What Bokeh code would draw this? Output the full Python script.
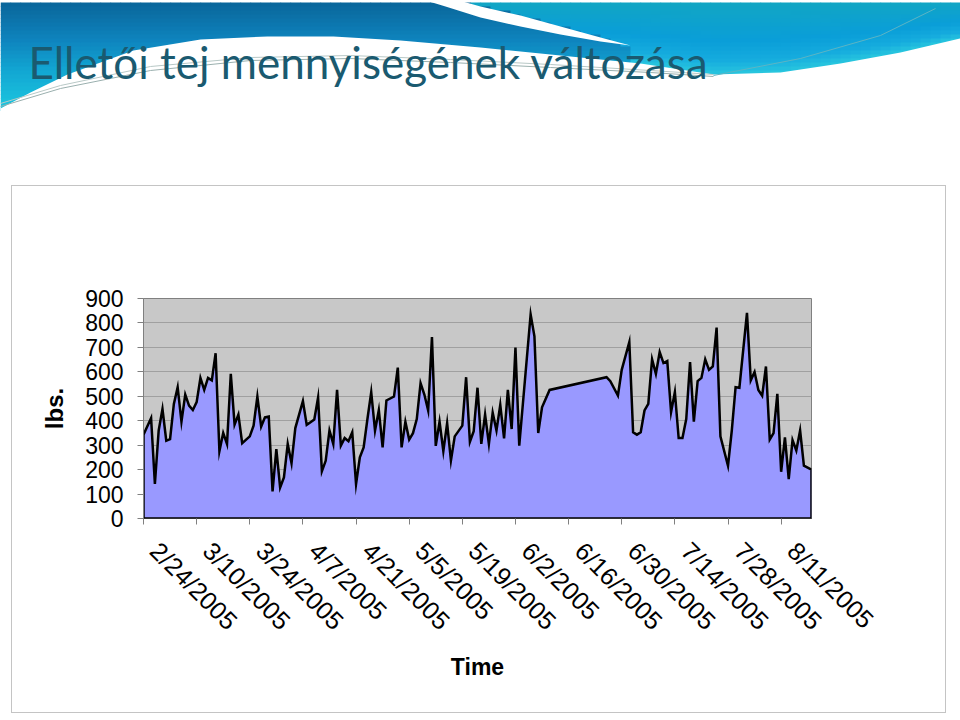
import numpy as np
import pandas as pd
from bokeh.plotting import figure
from bokeh.models import Range1d, FixedTicker, Label, DatetimeAxis
from bokeh.layouts import column, row
from bokeh.embed import file_html
from bokeh.resources import INLINE

# ---------------- data ----------------
dates = [
    "2005-02-24", "2005-02-26", "2005-02-27", "2005-02-28", "2005-03-01", "2005-03-02",
    "2005-03-03", "2005-03-04", "2005-03-05", "2005-03-06", "2005-03-07", "2005-03-08",
    "2005-03-09", "2005-03-10", "2005-03-11", "2005-03-12", "2005-03-13", "2005-03-14",
    "2005-03-15", "2005-03-16", "2005-03-17", "2005-03-18", "2005-03-19", "2005-03-20",
    "2005-03-21", "2005-03-22", "2005-03-24", "2005-03-25", "2005-03-26", "2005-03-27",
    "2005-03-28", "2005-03-29", "2005-03-30", "2005-03-31", "2005-04-01", "2005-04-02",
    "2005-04-03", "2005-04-04", "2005-04-05", "2005-04-07", "2005-04-08", "2005-04-09",
    "2005-04-10", "2005-04-11", "2005-04-12", "2005-04-13", "2005-04-14", "2005-04-15",
    "2005-04-16", "2005-04-17", "2005-04-18", "2005-04-19", "2005-04-20", "2005-04-21",
    "2005-04-22", "2005-04-23", "2005-04-24", "2005-04-25", "2005-04-26", "2005-04-27",
    "2005-04-28", "2005-04-29", "2005-05-01", "2005-05-02", "2005-05-03", "2005-05-04",
    "2005-05-05", "2005-05-06", "2005-05-07", "2005-05-08", "2005-05-09", "2005-05-10",
    "2005-05-11", "2005-05-12", "2005-05-13", "2005-05-14", "2005-05-15", "2005-05-16",
    "2005-05-17", "2005-05-19", "2005-05-20", "2005-05-21", "2005-05-22", "2005-05-23",
    "2005-05-24", "2005-05-25", "2005-05-26", "2005-05-27", "2005-05-28", "2005-05-29",
    "2005-05-30", "2005-05-31", "2005-06-01", "2005-06-02", "2005-06-03", "2005-06-06",
    "2005-06-07", "2005-06-08", "2005-06-09", "2005-06-11", "2005-06-26", "2005-06-27",
    "2005-06-29", "2005-06-30", "2005-07-02", "2005-07-03", "2005-07-04", "2005-07-05",
    "2005-07-06", "2005-07-07", "2005-07-08", "2005-07-09", "2005-07-10", "2005-07-11",
    "2005-07-12", "2005-07-13", "2005-07-14", "2005-07-15", "2005-07-16", "2005-07-17",
    "2005-07-18", "2005-07-19", "2005-07-20", "2005-07-21", "2005-07-22", "2005-07-23",
    "2005-07-24", "2005-07-25", "2005-07-26", "2005-07-28", "2005-07-29", "2005-07-30",
    "2005-07-31", "2005-08-02", "2005-08-03", "2005-08-04", "2005-08-05", "2005-08-06",
    "2005-08-07", "2005-08-08", "2005-08-09", "2005-08-10", "2005-08-11", "2005-08-12",
    "2005-08-13", "2005-08-14", "2005-08-15", "2005-08-16", "2005-08-17", "2005-08-19",
]
milk_lbs = [
    343, 411, 141, 360, 448, 318,
    325, 469, 537, 396, 507, 462,
    444, 476, 575, 526, 575, 565,
    676, 275, 350, 305, 592, 384,
    425, 308, 336, 380, 499, 376,
    414, 417, 111, 284, 127, 168,
    305, 226, 370, 480, 383, 394,
    405, 495, 193, 236, 360, 305,
    526, 298, 329, 316, 353, 141,
    250, 291, 407, 517, 360, 444,
    291, 483, 499, 617, 291, 396,
    323, 349, 407, 554, 507, 442,
    742, 297, 396, 275, 390, 237,
    336, 380, 578, 314, 357, 535,
    305, 425, 305, 433, 360, 465,
    328, 526, 366, 699, 298, 835,
    745, 350, 455, 526, 578, 562,
    503, 608, 722, 353, 343, 353,
    442, 469, 651, 592, 681, 636,
    644, 435, 517, 329, 329, 407,
    640, 396, 562, 575, 651, 608,
    622, 781, 336, 216, 360, 537,
    535, 841, 565, 599, 526, 502,
    622, 323, 349, 510, 191, 332,
    161, 321, 278, 360, 216, 200,
]
tick_labels = ["2/24/2005", "3/10/2005", "3/24/2005", "4/7/2005", "4/21/2005",
               "5/5/2005", "5/19/2005", "6/2/2005", "6/16/2005", "6/30/2005",
               "7/14/2005", "7/28/2005", "8/11/2005"]
y_ticks = [0, 100, 200, 300, 400, 500, 600, 700, 800, 900]
x_start = "2005-02-24"
x_end = "2005-08-19"

title_text = "Elletői tej mennyiségének változása"
y_title = "lbs."
x_title = "Time"


def to_ms(values):
    return list(pd.to_datetime(values).asi8 / 1e6)


x_ms = to_ms(dates)
tick_ms = to_ms(pd.to_datetime(tick_labels, format="%m/%d/%Y"))
x0_ms, x1_ms = to_ms([x_start, x_end])

# ---------------- header (slide decoration + title) ----------------
H = 186
header = figure(width=960, height=H, x_range=Range1d(0, 960), y_range=Range1d(H, 0),
                toolbar_location=None, output_backend="svg", min_border=0,
                x_axis_location=None, y_axis_location=None,
                background_fill_color="white", border_fill_color="white",
                outline_line_color=None)
header.grid.visible = False

bx = [0, 30, 67, 133, 200, 267, 333, 400, 480, 560, 640, 713, 780, 840, 900, 960]
by = [108, 92, 74, 50, 39, 36, 36, 40, 47, 55, 63, 74, 72, 63, 52, 38]
up_x = [425, 455, 480, 520, 560, 600, 628]
up_y = [-1, 0, 6, 15, 26, 37, 45]


def hex_of(c):
    return "#%02x%02x%02x" % tuple(int(round(v)) for v in c)


def grad(stops, t):
    ts = [s[0] for s in stops]
    cols = np.array([s[1] for s in stops], dtype=float)
    return [np.interp(t, ts, cols[:, k]) for k in range(3)]


left_stops = [(0, (10, 100, 152)), (40, (14, 132, 190)), (70, (18, 166, 210)), (110, (28, 200, 224))]
right_stops = [(0.0, (18, 166, 194)), (0.55, (10, 158, 216)), (0.82, (22, 172, 222)), (1.0, (40, 198, 222))]

ql, qr, qt, qb, qc = [], [], [], [], []
step_x, step_y = 10, 4
for xq in range(0, 960, step_x):
    cx = xq + step_x / 2
    bnd = np.interp(cx, bx, by)
    for yq in range(2, 112, step_y):
        if yq > bnd + 2:
            continue
        cy = yq + step_y / 2
        right = cx > 628 or (cx > 425 and cy < np.interp(cx, up_x, up_y))
        if right:
            col = grad(right_stops, min(cy / bnd, 1.0))
        else:
            col = grad(left_stops, cy)
        ql.append(xq); qr.append(xq + step_x + 0.6)
        qt.append(yq); qb.append(yq + step_y + 0.6)
        qc.append(hex_of(col))
header.quad(left=ql, right=qr, top=qt, bottom=qb, fill_color=qc, line_color=None)

header.patch(x=bx + [960, 0], y=by + [H + 5, H + 5], fill_color="white", line_color=None)
band_x = [455, 480, 520, 560, 600, 630, 600, 560, 520, 480, 445, 422]
band_y = [-1, 6, 15, 26, 37, 45, 41, 34, 26, 17, 6, -1]
header.patch(x=band_x, y=band_y, fill_color="white", line_color=None)
header.line(x=[0, 60, 150, 250, 350, 450, 550, 650, 713],
            y=[106, 88, 70, 60, 58, 62, 67, 72, 76], line_color="#9AB0AE", line_width=1)
header.line(x=[0, 60, 150, 250, 350, 450, 550, 650, 713],
            y=[103, 85, 66, 57, 55, 59, 64, 70, 74], line_color="#B8C8C6", line_width=1)
header.line(x=[713, 800, 880, 935], y=[75, 58, 35, 8], line_color="#5CB4C4", line_width=1)

header.add_layout(Label(x=28, y=61, text=title_text, text_font="Lato",
                        text_font_size="44px", text_color="#1A5A70",
                        text_baseline="alphabetic", text_align="left"))

# ---------------- chart ----------------
p = figure(width=933, height=526, x_axis_type="datetime",
           x_range=Range1d(x0_ms, x1_ms), y_range=Range1d(0, 900),
           toolbar_location=None, output_backend="svg",
           min_border_left=131, min_border_right=134, min_border_top=112, min_border_bottom=194,
           background_fill_color="#C8C8C8", border_fill_color="white",
           outline_line_color="#808080", margin=(0, 0, 0, 12))
p.styles = {"outline": "1px solid #C4C4C4"}

px = [x_ms[0]] + x_ms + [x_ms[-1]]
py = [0] + milk_lbs + [0]
p.patch(x=px, y=py, fill_color="#9999FF", line_color="black", line_width=2.5,
        line_join="miter")

p.xgrid.visible = False
p.ygrid.ticker = FixedTicker(ticks=y_ticks)
p.ygrid.grid_line_color = "#A0A0A0"
p.ygrid.grid_line_width = 1

# main x axis: tick marks only (labels not painted)
xa = p.xaxis[0]
xa.ticker = FixedTicker(ticks=tick_ms)
xa.major_label_text_color = None
xa.major_label_text_font_size = "1px"
xa.major_label_standoff = 0
xa.major_tick_out = 6
xa.major_tick_in = 0
xa.major_tick_line_color = "#808080"
xa.minor_tick_line_color = None
xa.axis_line_color = "#303030"

# label axis: same dates, labels set a little right of the ticks (Excel style)
shift_ms = 11 / 668 * (x1_ms - x0_ms)
p.extra_x_ranges = {"lbl": Range1d(x0_ms - shift_ms, x1_ms - shift_ms)}
la = DatetimeAxis(x_range_name="lbl", ticker=FixedTicker(ticks=tick_ms))
la.major_label_overrides = dict(zip(tick_ms, tick_labels))
la.major_label_orientation = -np.pi / 4
la.major_label_text_font = "Liberation Sans"
la.major_label_text_font_size = "25px"
la.major_label_text_color = "black"
la.major_label_standoff = 22
la.major_tick_out = 0
la.major_tick_in = 0
la.major_tick_line_color = None
la.minor_tick_line_color = None
la.axis_line_color = None
la.axis_label = x_title
la.axis_label_text_font = "Liberation Sans"
la.axis_label_text_font_style = "bold"
la.axis_label_text_font_size = "23px"
la.axis_label_text_color = "black"
la.axis_label_standoff = 6
p.add_layout(la, "below")

ya = p.yaxis[0]
ya.ticker = FixedTicker(ticks=y_ticks)
ya.major_label_text_font = "Liberation Sans"
ya.major_label_text_font_size = "23px"
ya.major_label_text_color = "black"
ya.major_label_standoff = 14
ya.major_tick_out = 6
ya.major_tick_in = 0
ya.major_tick_line_color = "#808080"
ya.minor_tick_line_color = None
ya.axis_line_color = "#808080"
ya.axis_label = y_title
ya.axis_label_text_font = "Liberation Sans"
ya.axis_label_text_font_style = "bold"
ya.axis_label_text_font_size = "24px"
ya.axis_label_text_color = "black"
ya.axis_label_standoff = 14

layout = column(row(header), row(p))
open("out.html", "w").write(file_html(layout, INLINE))
